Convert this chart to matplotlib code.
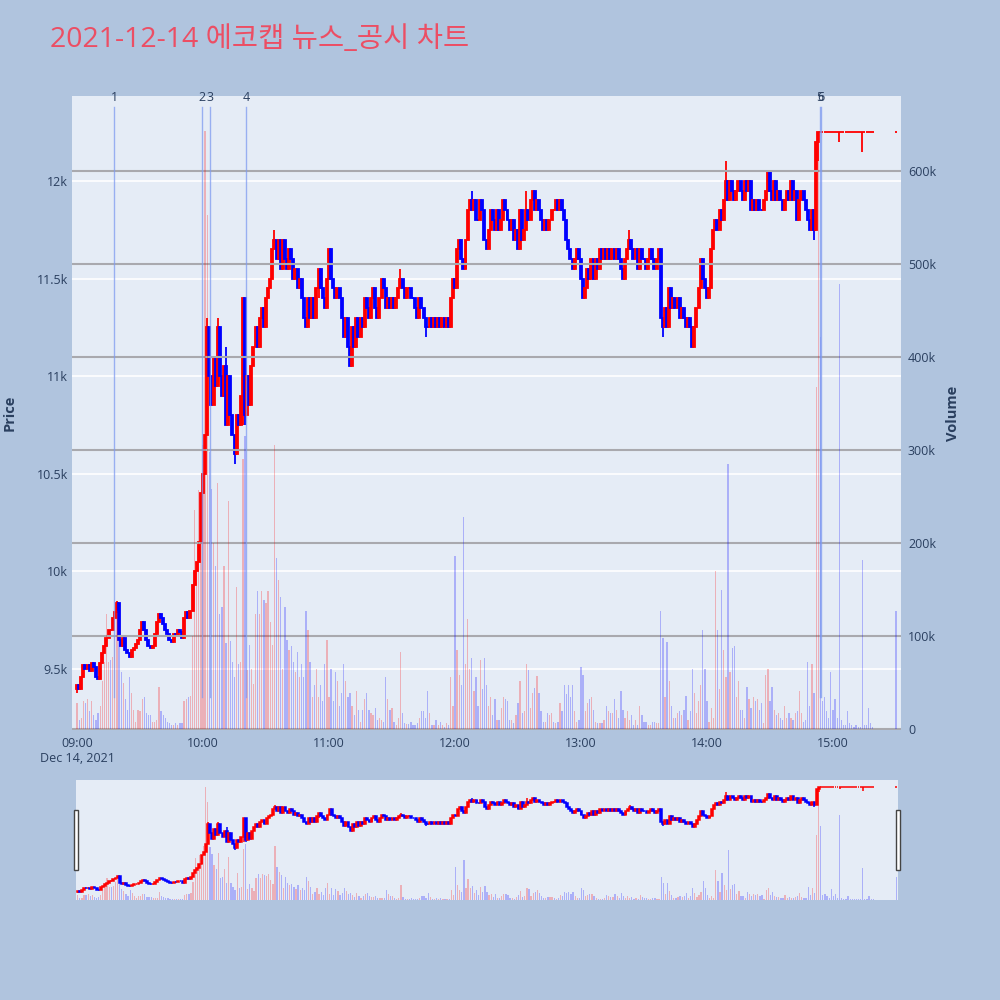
import matplotlib.pyplot as plt
from matplotlib.patches import Rectangle
from matplotlib.transforms import blended_transform_factory

plt.rcParams['font.family'] = ['Open Sans', 'Noto Sans CJK KR', 'DejaVu Sans']

# 1-minute candles, 09:00 .. 15:19, then the 15:30 closing auction
first_open = 9400
closes = [
    9420, 9400, 9460, 9520, 9500, 9520, 9490, 9530, 9510, 9460,
    9450, 9530, 9580, 9620, 9660, 9700, 9700, 9760, 9790, 9840,
    9650, 9620, 9660, 9600, 9580, 9560, 9600, 9610, 9630, 9650,
    9700, 9740, 9700, 9650, 9620, 9610, 9620, 9680, 9740, 9780,
    9760, 9730, 9700, 9680, 9650, 9640, 9680, 9670, 9700, 9690,
    9660, 9760, 9790, 9760, 9800, 9930, 10000, 10050, 10150, 10400,
    10500, 10700, 11250, 11000, 10850, 11100, 10950, 11250, 11000, 10900,
    11050, 10750, 11000, 10800, 10700, 10600, 10800, 10750, 10900, 11400,
    10800, 11000, 10850, 11050, 11150, 11250, 11150, 11300, 11350, 11250,
    11400, 11450, 11500, 11650, 11700, 11600, 11700, 11550, 11700, 11600,
    11550, 11650, 11600, 11500, 11550, 11450, 11500, 11400, 11300, 11250,
    11400, 11300, 11400, 11300, 11450, 11550, 11450, 11400, 11350, 11500,
    11650, 11500, 11450, 11400, 11450, 11400, 11300, 11200, 11300, 11150,
    11050, 11250, 11150, 11300, 11200, 11300, 11250, 11400, 11350, 11300,
    11400, 11450, 11350, 11300, 11400, 11500, 11450, 11350, 11400, 11350,
    11400, 11350, 11400, 11450, 11500, 11450, 11400, 11450, 11450, 11400,
    11400, 11350, 11300, 11400, 11350, 11300, 11250, 11250, 11300, 11250,
    11300, 11250, 11300, 11250, 11300, 11250, 11300, 11250, 11400, 11500,
    11450, 11650, 11700, 11600, 11550, 11700, 11850, 11900, 11850, 11900,
    11800, 11800, 11900, 11850, 11700, 11650, 11750, 11850, 11800, 11750,
    11850, 11750, 11800, 11900, 11850, 11800, 11750, 11800, 11700, 11750,
    11650, 11850, 11700, 11750, 11850, 11800, 11900, 11950, 11850, 11900,
    11850, 11800, 11750, 11800, 11750, 11800, 11850, 11850, 11900, 11850,
    11900, 11850, 11800, 11700, 11650, 11600, 11550, 11600, 11650, 11600,
    11500, 11400, 11450, 11550, 11500, 11600, 11500, 11600, 11550, 11650,
    11600, 11650, 11600, 11650, 11600, 11650, 11600, 11650, 11600, 11550,
    11500, 11600, 11650, 11700, 11650, 11600, 11650, 11550, 11650, 11600,
    11600, 11550, 11600, 11650, 11600, 11550, 11600, 11650, 11300, 11250,
    11350, 11250, 11450, 11350, 11400, 11350, 11400, 11300, 11350, 11300,
    11250, 11300, 11250, 11150, 11250, 11350, 11450, 11600, 11500, 11450,
    11400, 11450, 11650, 11750, 11800, 11750, 11850, 11800, 11900, 12000,
    11900, 12000, 11950, 11900, 11950, 12000, 11950, 11900, 12000, 11950,
    12000, 11850, 11900, 11850, 11900, 11850, 11850, 11900, 11950, 12050,
    11950, 11900, 12000, 11900, 11950, 11900, 11850, 11900, 11950, 11900,
    12000, 11900, 11950, 11800, 11900, 11950, 11900, 11850, 11800, 11750,
    11850, 11750, 12200, 12250, 12250, 12250, 12250, 12250, 12250, 12250,
    12250, 12250, 12250, 12250, 12250, 12250, 12250, 12250, 12250, 12250,
    12250, 12250, 12250, 12250, 12250, 12250, 12250, 12250, 12250, 12250,
]
close_1530 = 12250

# volume in thousands of shares, same minutes
volume_k = [
    28, 10, 12, 30, 28, 32, 19, 30, 15, 10,
    17, 25, 52, 72, 124, 72, 74, 78, 100, 127,
    96, 61, 50, 32, 21, 56, 39, 21, 8, 21,
    19, 32, 34, 17, 15, 15, 8, 8, 10, 45,
    19, 15, 12, 8, 6, 4, 4, 6, 4, 6,
    6, 30, 32, 34, 36, 100, 236, 180, 257, 236,
    305, 643, 553, 298, 258, 200, 175, 265, 124, 131,
    175, 93, 245, 95, 72, 56, 153, 70, 72, 290,
    315, 64, 90, 65, 48, 124, 148, 124, 148, 139,
    135, 148, 115, 90, 305, 184, 160, 142, 65, 131,
    96, 85, 89, 72, 61, 83, 56, 70, 56, 127,
    107, 72, 34, 47, 65, 34, 47, 30, 70, 96,
    34, 65, 30, 61, 52, 25, 39, 70, 52, 34,
    39, 25, 15, 41, 21, 8, 21, 32, 39, 20,
    17, 15, 23, 10, 12, 10, 8, 56, 32, 21,
    23, 8, 4, 12, 83, 17, 6, 5, 5, 8,
    4, 4, 6, 12, 19, 19, 12, 41, 17, 4,
    4, 10, 4, 8, 4, 2, 6, 4, 56, 25,
    186, 85, 58, 47, 228, 70, 118, 65, 76, 41,
    56, 25, 74, 43, 76, 47, 25, 34, 15, 32,
    10, 10, 23, 34, 32, 30, 10, 10, 6, 15,
    28, 52, 17, 19, 70, 63, 23, 39, 44, 57,
    39, 19, 8, 8, 17, 15, 17, 8, 6, 8,
    28, 19, 47, 38, 47, 34, 47, 19, 8, 10,
    67, 58, 19, 28, 32, 34, 21, 8, 6, 6,
    6, 10, 25, 19, 17, 17, 32, 21, 12, 41,
    21, 12, 19, 10, 15, 4, 10, 4, 25, 15,
    8, 8, 4, 4, 8, 8, 6, 6, 127, 98,
    34, 94, 52, 25, 12, 12, 17, 19, 15, 21,
    36, 10, 19, 65, 39, 17, 30, 47, 107, 65,
    30, 8, 23, 12, 170, 107, 43, 150, 85, 56,
    285, 61, 87, 89, 34, 52, 21, 21, 12, 45,
    32, 23, 34, 30, 32, 21, 28, 6, 58, 65,
    30, 45, 21, 15, 17, 12, 10, 25, 12, 17,
    12, 10, 17, 19, 41, 17, 8, 10, 72, 25,
    70, 39, 368, 643, 421, 30, 34, 19, 12, 61,
    21, 32, 12, 479, 10, 4, 4, 19, 6, 4,
    2, 4, 2, 2, 182, 4, 4, 23, 6, 2,
    127,
]

# visible wicks: minute -> (high, low)
wicks = {
    0: (9420, 9380), 19: (9850, 9790), 62: (11300, 10700), 67: (11300, 11000),
    71: (11150, 10750), 75: (10700, 10550), 79: (11400, 10750), 80: (11400, 10750),
    94: (11750, 11650), 115: (11550, 11400), 154: (11550, 11450), 166: (11300, 11200),
    188: (11950, 11850), 214: (11950, 11800), 263: (11750, 11650), 279: (11300, 11200),
    309: (12100, 11900), 351: (11850, 11700), 353: (12250, 12100),
    363: (12250, 12200), 374: (12250, 12150),
}

# news / disclosure markers (minutes after 09:00)
news_pos = [17.6, 59.5, 63.3, 80.5, 353.8, 354.2]
news_lbl = ['1', '2', '3', '4', '5', '6']

hour_ticks = [0, 60, 120, 180, 240, 300, 360]
hour_labels = ['09:00\nDec 14, 2021', '10:00', '11:00', '12:00', '13:00', '14:00', '15:00']
price_ticks = [9500, 10000, 10500, 11000, 11500, 12000]
price_labels = ['9.5k', '10k', '10.5k', '11k', '11.5k', '12k']
vol_ticks = [0, 100, 200, 300, 400, 500, 600]

assert len(closes) == 380 and len(volume_k) == 381

minutes = list(range(len(closes))) + [390]
close_all = closes + [close_1530]
opens = [first_open] + close_all[:-1]

highs, lows, ccol, vcol = [], [], [], []
prev = 'red'
for i, m in enumerate(minutes):
    o, c = opens[i], close_all[i]
    h, l = wicks.get(m, (max(o, c), min(o, c)))
    highs.append(max(h, o, c))
    lows.append(min(l, o, c))
    if c > o:
        prev = 'red'
    elif c < o:
        prev = 'blue'
    ccol.append('#ff0000' if prev == 'red' else '#0000ff')
    vcol.append('#ff0000' if c > o else '#0000ff')

bottoms = [min(o, c) for o, c in zip(opens, close_all)]
heights = [abs(c - o) for o, c in zip(opens, close_all)]

TXT = '#2a3f5f'
fig = plt.figure(figsize=(10, 10), dpi=100, facecolor='#b0c4de')


def draw(ax, ax2, body_w, lw):
    ax.vlines(minutes, lows, highs, colors=ccol, lw=lw, zorder=2)
    ax.bar(minutes, heights, bottom=bottoms, width=body_w, color=ccol,
           edgecolor=ccol, linewidth=lw, zorder=3)
    ax2.bar(minutes, volume_k, width=0.6, color=vcol, alpha=0.25, linewidth=0, zorder=3)


# main chart
ax = fig.add_axes([0.072, 0.270, 0.829, 0.634])
ax.set_facecolor('#e5ecf6')
ax2 = ax.twinx()
draw(ax, ax2, 0.95, 1.3)

ax.set_xlim(-2.4, 392.4)
ax.set_ylim(9188, 12435)
ax2.set_ylim(-1, 680.6)
ax.set_axisbelow(True)
ax.grid(axis='y', color='white', lw=1.2)
ax.grid(axis='x', visible=False)
ax2.grid(axis='y', color='#a9a9ae', lw=1.5, zorder=1)
ax.set_yticks(price_ticks, price_labels)
ax2.set_yticks(vol_ticks, ['0'] + [f'{v}k' for v in vol_ticks[1:]])
ax.set_xticks(hour_ticks, hour_labels)
for a in (ax, ax2):
    for s in a.spines.values():
        s.set_visible(False)
    a.tick_params(length=0, labelsize=9, labelcolor=TXT)
ax.tick_params(axis='y', pad=3)
ax2.tick_params(axis='y', pad=5)
ax.tick_params(axis='x', pad=5)

trans = blended_transform_factory(ax2.transData, ax2.transAxes)
for m, lbl in zip(news_pos, news_lbl):
    ax2.axvline(m, ymin=0.052, ymax=0.983, color='#7f9bf0', lw=1, alpha=0.75, zorder=4)
    ax2.text(m, 0.998, lbl, transform=trans, ha='center', va='center',
             fontsize=9, color=TXT, zorder=5)

# range slider
rs = fig.add_axes([0.076, 0.100, 0.822, 0.120])
rs.set_facecolor('#e5ecf6')
rs2 = rs.twinx()
draw(rs, rs2, 0.9, 1.1)
rs.set_xlim(-0.8, 390.8)
rs.set_ylim(9188, 12435)
rs2.set_ylim(-1, 680.6)
for a in (rs, rs2):
    a.set_xticks([])
    a.set_yticks([])
    for s in a.spines.values():
        s.set_visible(False)
for x0 in (0.0735, 0.8955):
    fig.patches.append(Rectangle((x0, 0.130), 0.004, 0.060, transform=fig.transFigure,
                                 facecolor='white', edgecolor='#444444', lw=1))

fig.text(0.050, 0.960, '2021-12-14 에코캡 뉴스_공시 차트', fontsize=20.5,
         color='#ec4e64', va='center', ha='left')
fig.text(0.010, 0.587, 'Price', rotation=90, fontsize=10.5, fontweight='bold',
         color=TXT, ha='center', va='center')
fig.text(0.953, 0.587, 'Volume', rotation=90, fontsize=10.5, fontweight='bold',
         color=TXT, ha='center', va='center')

fig.savefig('out.png', dpi=100, facecolor=fig.get_facecolor())
plt.close(fig)
